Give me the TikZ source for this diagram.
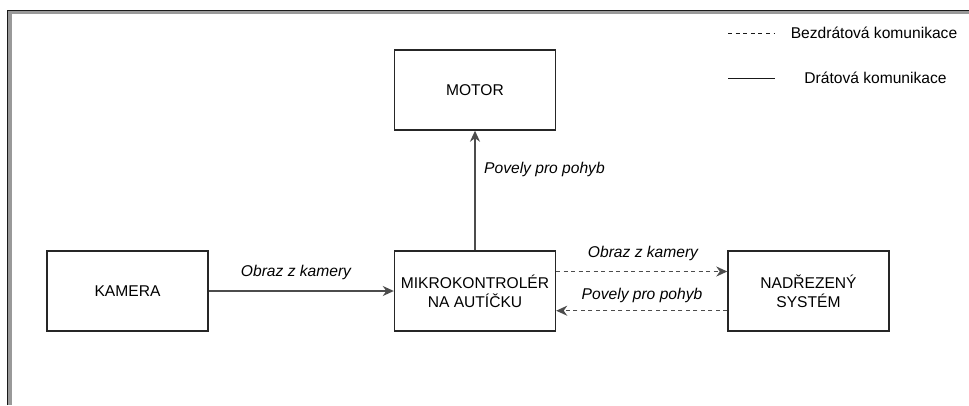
\documentclass[tikz,border=0pt]{standalone}
\usepackage{fontspec}
\setmainfont{Liberation Sans}
\usetikzlibrary{arrows.meta}
\begin{document}
\begin{tikzpicture}[x=1pt,y=-1pt,
  every node/.style={font=\fontsize{15.6}{19}\selectfont, text=black},
  box/.style={draw=black!85, line width=1.4pt, rectangle, minimum width=161pt, minimum height=80pt, align=center, inner sep=2pt},
  conn/.style={draw=black!70, line width=1.5pt, -{Stealth[length=11pt,width=10pt,inset=3.5pt]}},
  dconn/.style={conn, dash pattern=on 4pt off 3.5pt},
  lbl/.style={font=\fontsize{15.6}{19}\selectfont\itshape, inner sep=0pt},
  legline/.style={draw=black!90, line width=1.4pt}
]
\useasboundingbox (0,0) rectangle (969,405);
\fill[white] (0,0) rectangle (969,405);
% window frame
\fill[black!40] (7,10) rectangle (969,14);
\fill[black!40] (7,10) rectangle (12,405);
\draw[black!90, line width=1.4pt] (7.7,405) -- (7.7,10.7) -- (969,10.7);
% boxes
\node[box] (motor) at (475,90) {MOTOR};
\node[box] (mikro) at (475,291) {MIKROKONTROLÉR\\NA AUTÍČKU};
\node[box] (kamera) at (127.5,291) {KAMERA};
\node[box] (nadr) at (808.5,291) {NADŘEZENÝ\\SYSTÉM};
% connectors
\draw[conn] (mikro.north) -- (motor.south);
\draw[conn] (kamera.east) -- (mikro.west);
\draw[dconn] ([yshift=19.5pt]mikro.east) -- ([yshift=19.5pt]nadr.west);
\draw[dconn] ([yshift=-19.7pt]nadr.west) -- ([yshift=-19.7pt]mikro.east);
% labels
\node[lbl, anchor=west] (lmotor) at (484,169) {Povely pro pohyb};
\node[lbl] (lkam) at (296,272) {Obraz z kamery};
\node[lbl] (lup) at (643,253) {Obraz z kamery};
\node[lbl] (ldown) at (642,295) {Povely pro pohyb};
% legend
\coordinate (d1) at (728,33.3);
\coordinate (d2) at (774,33.3);
\coordinate (s1) at (728,78.3);
\coordinate (s2) at (775,78.3);
\draw[legline, dash pattern=on 4pt off 3.6pt] (d1) -- (d2);
\draw[legline] (s1) -- (s2);
\node[inner sep=0pt] (tbez) at (874,33.3) {Bezdrátová komunikace};
\node[inner sep=0pt] (tdrat) at (875.5,78.3) {Drátová komunikace};
\end{tikzpicture}
\end{document}
